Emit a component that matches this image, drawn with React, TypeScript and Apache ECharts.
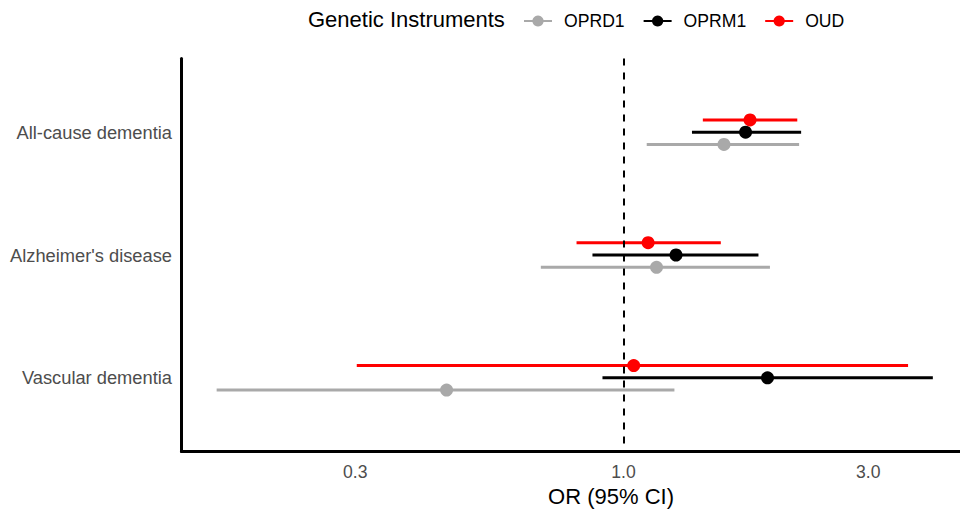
import React, { useEffect, useRef } from "react";
import * as echarts from "echarts";

const categories = ["All-cause dementia", "Alzheimer's disease", "Vascular dementia"];
const groups = ["OPRD1", "OPRM1", "OUD"];
const groupColors = ["#A9A9A9", "#000000", "#FF0000"];
const groupOffsets = [0.1, 0, -0.1];

const oprd1Est = [1.57, 1.16, 0.452];
const oprd1Low = [1.11, 0.69, 0.161];
const oprd1High = [2.2, 1.93, 1.257];

const oprm1Est = [1.73, 1.266, 1.909];
const oprm1Low = [1.36, 0.87, 0.91];
const oprm1High = [2.22, 1.833, 4.01];

const oudEst = [1.765, 1.117, 1.047];
const oudLow = [1.428, 0.81, 0.302];
const oudHigh = [2.182, 1.548, 3.588];

const xTicks = [0.3, 1.0, 3.0];
const xMin = 0.1375;
const xMax = 4.53;

const FONT = "'Liberation Sans', Arial, Helvetica, sans-serif";

export default function App() {
  const ref = useRef<HTMLDivElement>(null);
  useEffect(() => {
    if (!ref.current) return;
    const chart = echarts.init(ref.current, null, { renderer: "svg" });
    const est = [oprd1Est, oprm1Est, oudEst];
    const low = [oprd1Low, oprm1Low, oudLow];
    const high = [oprd1High, oprm1High, oudHigh];
    const lg = (v: number) => Math.log10(v);

    const legendSeries: any[] = groups.map((g, i) => ({
      type: "line",
      name: g,
      data: [],
      symbol: "circle",
      symbolSize: 11,
      lineStyle: { width: 3, color: groupColors[i] },
      itemStyle: { color: groupColors[i] },
    }));

    const barSeries: any[] = groups.map((g, i) => ({
      type: "custom",
      name: g,
      silent: true,
      encode: { x: [0, 1], y: 2 },
      data: categories.map((_, c) => [lg(low[i][c]), lg(high[i][c]), c + 1 + groupOffsets[i]]),
      renderItem: (params: any, api: any) => {
        const p1 = api.coord([api.value(0), api.value(2)]);
        const p2 = api.coord([api.value(1), api.value(2)]);
        return {
          type: "line",
          shape: { x1: p1[0], y1: p1[1], x2: p2[0], y2: p2[1] },
          style: { stroke: groupColors[i], lineWidth: 3 },
        };
      },
    }));

    const pointSeries: any[] = groups.map((g, i) => ({
      type: "scatter",
      name: g,
      silent: true,
      symbol: "circle",
      symbolSize: 13,
      itemStyle: { color: groupColors[i], opacity: 1 },
      data: categories.map((_, c) => [lg(est[i][c]), c + 1 + groupOffsets[i]]),
      markLine:
        i === 0
          ? {
              silent: true,
              symbol: ["none", "none"],
              label: { show: false },
              lineStyle: { type: [7, 7], color: "#000", width: 2 },
              emphasis: { disabled: true },
              data: [{ xAxis: 0 }],
            }
          : undefined,
    }));

    chart.setOption({
      animation: false,
      textStyle: { fontFamily: FONT },
      grid: { left: 181.5, right: 0, top: 58.5, bottom: 59.5, containLabel: false },
      legend: {
        data: groups,
        left: 523,
        top: 12,
        padding: 0,
        itemWidth: 28,
        itemHeight: 14,
        itemGap: 18,
        selectedMode: false,
        textStyle: { fontSize: 17.6, color: "#000", fontFamily: FONT, padding: [0, 0, 0, 7] },
      },
      xAxis: {
        type: "value",
        min: lg(xMin),
        max: lg(xMax),
        splitLine: { show: false },
        axisTick: { show: false },
        axisLine: { show: true, onZero: false, lineStyle: { color: "#000", width: 3 } },
        axisLabel: {
          customValues: xTicks.map(lg),
          formatter: (v: number) => Math.pow(10, v).toFixed(1),
          fontSize: 17.6,
          color: "#4D4D4D",
          margin: 11,
          fontFamily: FONT,
        },
      },
      yAxis: {
        type: "value",
        inverse: true,
        min: 0.4,
        max: 3.6,
        splitLine: { show: false },
        axisTick: { show: false },
        axisLine: { show: true, onZero: false, lineStyle: { color: "#000", width: 3 } },
        axisLabel: {
          customValues: [1, 2, 3],
          formatter: (v: number) => categories[Math.round(v) - 1] ?? "",
          fontSize: 18.3,
          color: "#4D4D4D",
          margin: 9.5,
          fontFamily: FONT,
        },
      },
      graphic: [
        {
          type: "text",
          left: 308,
          top: 8,
          style: { text: "Genetic Instruments", fontSize: 22, fill: "#000", fontFamily: FONT },
        },
        {
          type: "text",
          x: 611,
          y: 496,
          style: {
            text: "OR (95% CI)",
            fontSize: 22,
            fill: "#000",
            fontFamily: FONT,
            align: "center",
            verticalAlign: "middle",
          },
        },
      ],
      series: [...legendSeries, ...barSeries, ...pointSeries],
    });
    return () => chart.dispose();
  }, []);
  return (
    <div
      ref={ref}
      style={{ position: "fixed", left: 0, top: 0, width: 960, height: 511, background: "#fff" }}
    />
  );
}
